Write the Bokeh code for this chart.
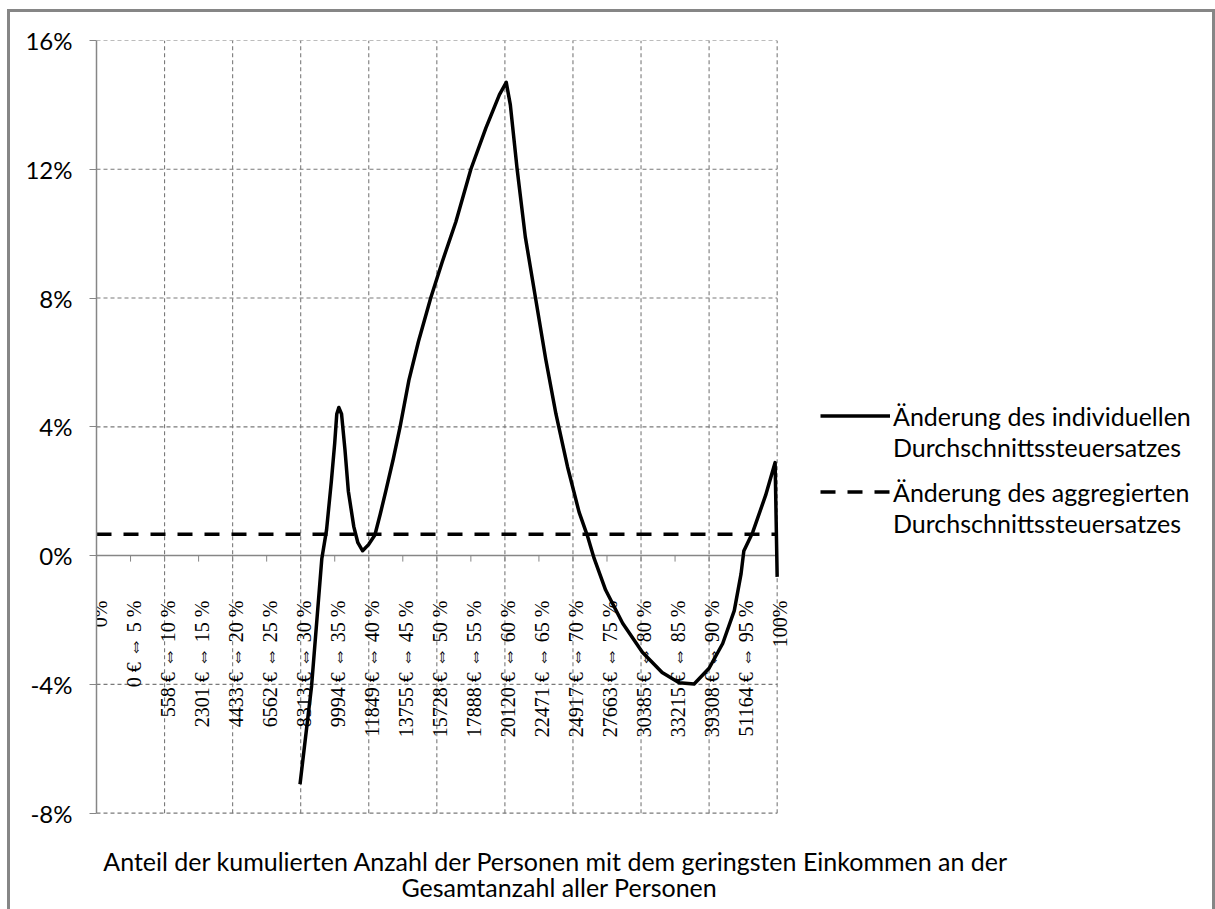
from math import pi
from bokeh.plotting import figure
from bokeh.models import (Range1d, FixedTicker, PrintfTickFormatter, Legend, LegendItem, Label)
from bokeh.embed import file_html
from bokeh.resources import INLINE
from bokeh.core.properties import value

# ---------------- data ----------------
share_pct = [29.9, 31.6, 33.1, 33.8, 34.5, 35.0, 35.3, 35.6, 36.0, 36.5, 37.0, 37.8,
             38.4, 39.1, 40.0, 40.9, 41.7, 42.5, 43.6, 44.6, 45.9, 47.3, 49.1, 50.8,
             52.8, 55.0, 57.2, 59.2, 60.2, 60.8, 61.8, 63.0, 64.5, 66.0, 67.5, 69.2,
             70.9, 72.1, 73.1, 74.8, 77.3, 80.2, 83.1, 85.6, 87.8, 90.0, 92.0, 93.7,
             94.7, 95.1, 96.4, 98.3, 99.7, 100.0]
change_individual = [-7.1, -4.05, -0.1, 0.8, 2.3, 3.5, 4.4, 4.6, 4.4, 3.3, 2.0, 0.9,
                     0.4, 0.15, 0.35, 0.64, 1.3, 2.0, 3.0, 4.0, 5.45, 6.65, 8.0, 9.13,
                     10.37, 12.0, 13.28, 14.32, 14.7, 14.0, 12.0, 9.9, 8.0, 6.1, 4.4, 2.76,
                     1.35, 0.63, -0.08, -1.07, -2.1, -3.0, -3.63, -3.95, -3.99, -3.5, -2.73, -1.71,
                     -0.56, 0.14, 0.72, 1.87, 2.89, -0.66]
change_aggregate = 0.66

category_pct = [0, 5, 10, 15, 20, 25, 30, 35, 40, 45, 50, 55, 60, 65, 70, 75, 80, 85, 90, 95, 100]
category_labels = ["0%", "0 € ⇔ 5 %", "558 € ⇔ 10 %", "2301 € ⇔ 15 %", "4433 € ⇔ 20 %",
                   "6562 € ⇔ 25 %", "8313 € ⇔ 30 %", "9994 € ⇔ 35 %", "11849 € ⇔ 40 %",
                   "13755 € ⇔ 45 %", "15728 € ⇔ 50 %", "17888 € ⇔ 55 %", "20120 € ⇔ 60 %",
                   "22471 € ⇔ 65 %", "24917 € ⇔ 70 %", "27663 € ⇔ 75 %", "30385 € ⇔ 80 %",
                   "33215 € ⇔ 85 %", "39308 € ⇔ 90 %", "51164 € ⇔ 95 %", "100%"]
y_ticks = [-8, -4, 0, 4, 8, 12, 16]

legend_individual = ["Änderung des individuellen", "Durchschnittssteuersatzes"]
legend_aggregate = ["Änderung des aggregierten", "Durchschnittssteuersatzes"]
x_title = ["Anteil der  kumulierten Anzahl der Personen mit dem geringsten Einkommen an der",
           "Gesamtanzahl aller Personen"]

# ---------------- layout / styling ----------------
GRAY = "#868686"
GRID_GRAY = "#7a7a7a"
SANS = "Lato"
SERIF = "'Liberation Serif', 'Noto Sans CJK JP'"

# The plotting frame runs from the y axis to the right/bottom edge of the canvas, so that
# the legend and the axis title (which sit outside the 0-100 % / -8..16 % chart area) are
# drawn inside it.  Chart area: 677 px for 0..100 %, 770 px for -8..16 %.
X_VIEW_END = 164.84      # canvas right edge in % units
Y_VIEW_START = -11.086   # canvas bottom edge in % units

p = figure(width=1202, height=897, x_range=Range1d(0, X_VIEW_END),
           y_range=Range1d(Y_VIEW_START, y_ticks[-1]),
           output_backend="svg", toolbar_location=None, title=None, x_axis_location=None,
           min_border_left=86, min_border_right=0, min_border_top=28, min_border_bottom=0)
p.styles = {"margin-left": "7px", "margin-top": "9px", "box-sizing": "content-box",
            "border-left": f"3px solid {GRAY}", "border-top": f"3px solid {GRAY}",
            "border-right": f"3px solid {GRAY}"}
p.outline_line_color = None
p.background_fill_color = "white"
p.border_fill_color = "white"
p.grid.visible = False

# y axis
p.yaxis.bounds = (y_ticks[0], y_ticks[-1])
p.yaxis.ticker = FixedTicker(ticks=y_ticks)
p.yaxis.formatter = PrintfTickFormatter(format="%d%%")
p.yaxis.axis_line_color = GRAY
p.yaxis.axis_line_width = 1.5
p.yaxis.major_tick_line_color = GRAY
p.yaxis.major_tick_out = 7
p.yaxis.major_tick_in = 0
p.yaxis.minor_tick_line_color = None
p.yaxis.major_label_standoff = 17
p.yaxis.major_label_text_font = SANS
p.yaxis.major_label_text_font_size = "24px"
p.yaxis.major_label_text_color = "black"

# dashed gridlines of the chart area
grid_y = [t for t in y_ticks if t != 0]
grid_x = category_pct[2::2]
p.segment(x0=category_pct[0], x1=category_pct[-1], y0=grid_y, y1=grid_y,
          line_color=GRID_GRAY, line_width=1.1, line_dash="4 3")
p.segment(x0=grid_x, x1=grid_x, y0=y_ticks[0], y1=y_ticks[-1],
          line_color=GRID_GRAY, line_width=1.1, line_dash="4 3")

# zero line acting as category axis, with ticks and rotated category labels
p.segment(x0=category_pct[0], x1=category_pct[-1], y0=0, y1=0, line_color=GRAY, line_width=1.5)
p.ray(x=category_pct[1:], y=[0] * (len(category_pct) - 1), length=6, length_units="screen",
      angle=-pi / 2, line_color=GRAY, line_width=1)
p.text(x=category_pct, y=[0] * len(category_pct), text=category_labels, angle=pi / 2,
       text_align="right", text_baseline="middle", x_offset=3, y_offset=45,
       text_font=value(SERIF), text_font_size="20px", text_color="black")

# series
r_ind = p.line(share_pct, change_individual, line_width=3.5, line_color="black",
               line_join="round")
r_agg = p.line([category_pct[0], category_pct[-1]], [change_aggregate, change_aggregate],
               line_width=3.5, line_color="black", line_dash="15 12")
dummy = p.line(x=[], y=[], line_alpha=0)


def make_legend(lines, renderer, loc):
    return Legend(items=[LegendItem(label=lines[0], renderers=[renderer]),
                         LegendItem(label=lines[1], renderers=[dummy])],
                  location=loc, border_line_color=None, background_fill_alpha=0,
                  padding=0, margin=0, spacing=0, glyph_width=70, glyph_height=31,
                  label_height=31, label_standoff=3, label_text_font=SANS,
                  label_text_font_size="25px", label_text_color="black")


p.add_layout(make_legend(legend_individual, r_ind, (724, 450)))
p.add_layout(make_legend(legend_aggregate, r_agg, (724, 374)))

# axis title (two centred lines below the chart area)
TITLE_X = 68.0
p.add_layout(Label(x=TITLE_X, y=y_ticks[0], y_offset=-48, text=x_title[0], text_align="center",
                   text_baseline="middle", text_font=SANS, text_font_size="25px",
                   text_color="black"))
p.add_layout(Label(x=TITLE_X, y=y_ticks[0], y_offset=-74, text=x_title[1], text_align="center",
                   text_baseline="middle", text_font=SANS, text_font_size="25px",
                   text_color="black"))

open("out.html", "w").write(file_html(p, INLINE))
